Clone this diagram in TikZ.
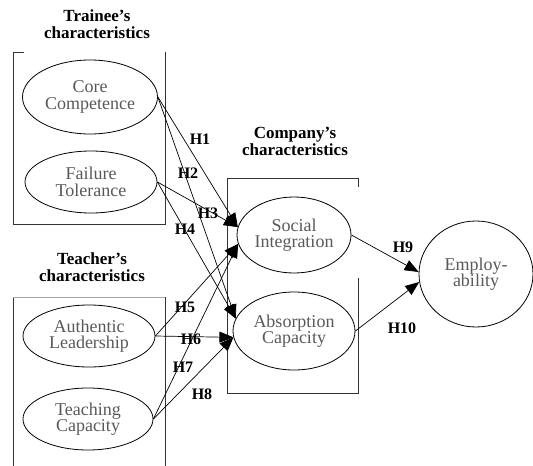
\documentclass[tikz,border=0pt]{standalone}
\usepackage{fontspec}
\setmainfont{Liberation Serif}
\usetikzlibrary{shapes.geometric, arrows.meta, positioning}
\tikzset{
	x=1pt, y=-1pt,
	>={Triangle[length=14pt,width=11pt]},
	construct/.style={ellipse, draw, line width=0.8pt, inner sep=0pt, align=center,
		text=black!65, font=\fontsize{18}{16.5}\selectfont},
	grouptitle/.style={align=center, font=\bfseries\fontsize{17}{17}\selectfont},
	hyp/.style={inner sep=0pt, font=\bfseries\fontsize{16}{16}\selectfont},
	groupbox/.style={draw=black!80, line width=0.8pt},
	link/.style={->, line width=0.7pt}}

\begin{document}
\begin{tikzpicture}
	\useasboundingbox (0,0) rectangle (533,466);

	% groups
	\node[grouptitle] (trainee) at (97,24) {Trainee's\\characteristics};
	\node[grouptitle] (teacher) at (92,267) {Teacher's\\characteristics};
	\node[grouptitle] (company) at (295,141) {Company's\\characteristics};

	\draw[groupbox] (24,52) -- (13,52) -- (13,224) -- (165,224) -- (165,52);
	\draw[groupbox] (13,466) -- (13,297);
	\draw[groupbox] (165,297) -- (165,466);
	\draw[draw=black!35, line width=0.8pt] (13,297) -- (165,297);
	\draw[groupbox] (358,187) -- (358,178) -- (227,178) -- (227,393) -- (358,393) -- (358,278);

	% constructs
	\node[construct, minimum width=135pt, minimum height=74pt] (cc) at (90,97) {Core\\Competence};
	\node[construct, minimum width=132pt, minimum height=62pt] (ft) at (91,182) {Failure\\Tolerance};
	\node[construct, minimum width=132pt, minimum height=62pt] (al) at (89,336) {Authentic\\Leadership};
	\node[construct, minimum width=130pt, minimum height=62pt] (tc) at (88,419) {Teaching\\Capacity};
	\node[construct, minimum width=114pt, minimum height=76pt] (si) at (294,235) {Social\\Integration};
	\node[construct, minimum width=122pt, minimum height=78pt] (ac) at (294,331) {Absorption\\Capacity};
	\node[construct, minimum width=114pt, minimum height=106pt] (emp) at (476,274) {Employ-\\ability};

	% hypotheses
	\draw[link] (cc.east) -- (si.172);
	\draw[link] (cc.east) -- (ac.168);
	\draw[link] (ft.east) -- (si.172);
	\draw[link] (ft.east) -- (ac.168);
	\draw[link] (al.east) -- (si.189);
	\draw[link] (al.east) -- (ac.186);
	\draw[link] (tc.east) -- (si.189);
	\draw[link] (tc.east) -- (ac.186);
	\draw[link] (si.east) -- (emp.178);
	\draw[link] (ac.east) -- (emp.188);

	\node[hyp] (h1) at (200,139) {H1};
	\node[hyp] (h2) at (188,173) {H2};
	\node[hyp] (h3) at (208,213) {H3};
	\node[hyp] (h4) at (185,229) {H4};
	\node[hyp] (h5) at (185,307) {H5};
	\node[hyp] (h6) at (191,339) {H6};
	\node[hyp] (h7) at (183,367) {H7};
	\node[hyp] (h8) at (202,394) {H8};
	\node[hyp] (h9) at (403,247) {H9};
	\node[hyp] (h10) at (402,328) {H10};
\end{tikzpicture}
\end{document}
